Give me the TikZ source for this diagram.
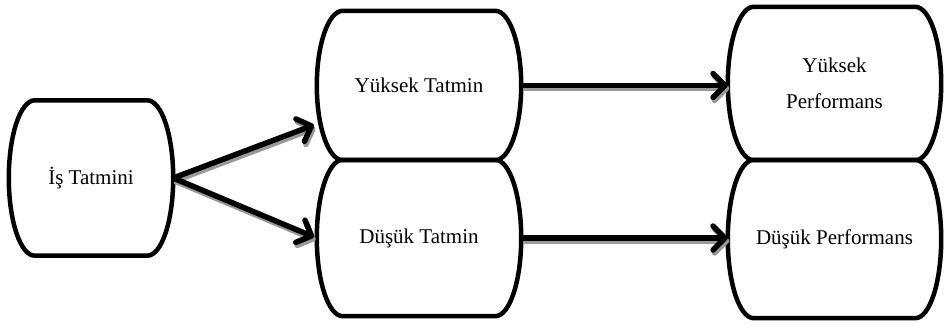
\documentclass[tikz,border=0pt]{standalone}
\usepackage{fontspec}
\setmainfont{Liberation Serif}
\usetikzlibrary{arrows.meta,calc}
\tikzset{
  boxnode/.style={draw=none, inner sep=0pt, align=center, font=\fontsize{21}{36}\selectfont},
  outline/.style={line width=4.5pt, line join=round},
  arr/.style={line width=5.5pt, -{Straight Barb[length=12pt,width=24pt,round]},
    preaction={draw=black!40, line width=5.5pt, transform canvas={shift={(1.5pt,-3pt)}}}}
}
\newcommand{\barrelout}[1]{%
  \draw[outline] let \p1=(#1.north west), \p2=(#1.south east), \n1={(\y1-\y2)/2} in
   (\x1+26pt,\y1) -- (\x2-26pt,\y1)
   .. controls (\x2-11.6pt,\y1) and (\x2,\y1-0.448*\n1) .. (\x2,\y1-\n1)
   .. controls (\x2,\y2+0.448*\n1) and (\x2-11.6pt,\y2) .. (\x2-26pt,\y2)
   -- (\x1+26pt,\y2)
   .. controls (\x1+11.6pt,\y2) and (\x1,\y2+0.448*\n1) .. (\x1,\y2+\n1)
   .. controls (\x1,\y1-0.448*\n1) and (\x1+11.6pt,\y1) .. cycle;}
\begin{document}
\begin{tikzpicture}[x=1pt,y=-1pt]
\useasboundingbox (0,0) rectangle (945,330);
\node[boxnode, minimum width=164pt, minimum height=155pt] (is) at (91,178) {İş Tatmini};
\node[boxnode, minimum width=204pt, minimum height=149pt] (yt) at (419,85.5) {Yüksek Tatmin};
\node[boxnode, minimum width=204pt, minimum height=156pt] (dt) at (419,238) {Düşük Tatmin};
\node[boxnode, minimum width=213pt, minimum height=153pt] (yp) at (834.5,83.5) {Yüksek\\Performans};
\node[boxnode, minimum width=213pt, minimum height=158pt] (dp) at (834.5,239) {Düşük Performans};
\barrelout{is}
\barrelout{yt}
\barrelout{dt}
\barrelout{yp}
\barrelout{dp}
\coordinate (ytin) at (314,125);
\coordinate (dtin) at (314,237);
\draw[arr] (is.east) -- (ytin);
\draw[arr] (is.east) -- (dtin);
\draw[arr] (yt.east) -- (yt.east -| yp.west);
\draw[arr] (dt.east) -- (dt.east -| dp.west);
\end{tikzpicture}
\end{document}
